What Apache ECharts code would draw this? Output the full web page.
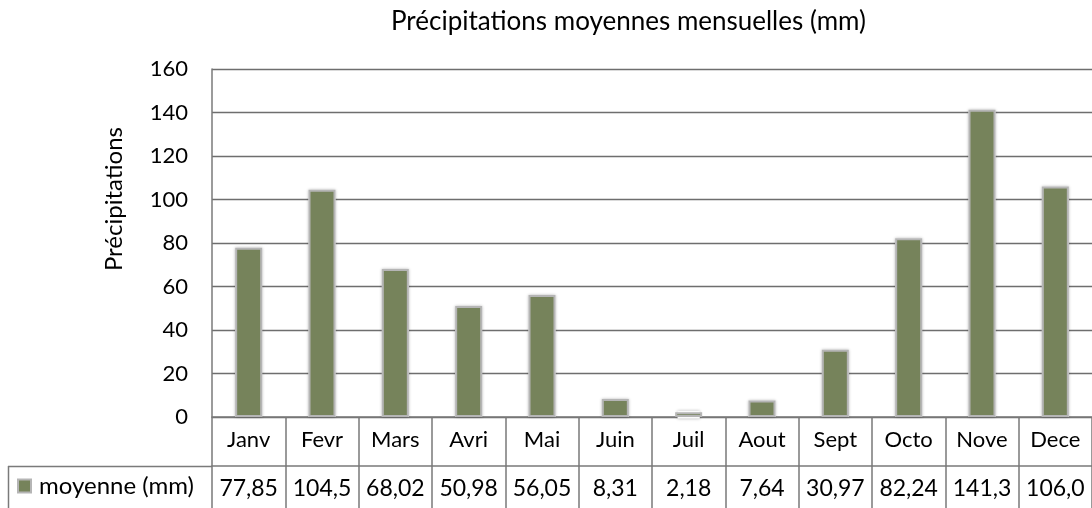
<!DOCTYPE html>
<html>
<head>
<meta charset="utf-8">
<script src="https://cdn.jsdelivr.net/npm/echarts@6/dist/echarts.min.js"></script>
<style>
  html, body { margin: 0; padding: 0; background: #fff; }
</style>
</head>
<body>
<div id="myChart" style="width: 1092px; height: 508px;"></div>
<script>
// data
const months = ["Janv", "Fevr", "Mars", "Avri", "Mai", "Juin", "Juil", "Aout", "Sept", "Octo", "Nove", "Dece"];
const moyenne = [77.85, 104.5, 68.02, 50.98, 56.05, 8.31, 2.18, 7.64, 30.97, 82.24, 141.3, 106.0];
// as printed in the data table
const tableLabels = ["77,85", "104,5", "68,02", "50,98", "56,05", "8,31", "2,18", "7,64", "30,97", "82,24", "141,3", "106,0"];
const yTicks = [0, 20, 40, 60, 80, 100, 120, 140, 160];

const font = "Lato, 'Open Sans', sans-serif";
const lineGray = "#7a7a7a";

let myChart = echarts.init(document.getElementById("myChart"));
myChart.setOption({
  animation: false,
  textStyle: { fontFamily: font },
  title: {
    text: "Précipitations moyennes mensuelles (mm)",
    left: 386,
    top: 4,
    textStyle: { fontFamily: font, fontSize: 26, fontWeight: "normal", color: "#000" },
  },
  legend: {
    data: ["moyenne (mm)"],
    left: 12,
    top: 469,
    icon: "rect",
    itemWidth: 13,
    itemHeight: 13,
    textStyle: { fontFamily: font, fontSize: 24, color: "#000", padding: [0, 0, 0, 3] },
  },
  grid: {
    left: 212,
    right: -4,
    top: 69,
    bottom: 91,
    containLabel: false,
  },
  xAxis: [
    {
      type: "category",
      data: months,
      axisLine: { lineStyle: { color: lineGray, width: 1.5 } },
      axisTick: { show: true, interval: 0, length: 49, lineStyle: { color: lineGray, width: 1.5 } },
      axisLabel: { interval: 0, margin: 12, fontSize: 22, color: "#000", fontFamily: font },
      splitLine: { show: false },
    },
    {
      type: "category",
      data: tableLabels,
      position: "bottom",
      offset: 49,
      axisLine: { lineStyle: { color: lineGray, width: 1.5 } },
      axisTick: { show: true, interval: 0, length: 45, lineStyle: { color: lineGray, width: 1.5 } },
      axisLabel: { interval: 0, margin: 11, fontSize: 23, color: "#000", fontFamily: font },
      splitLine: { show: false },
    },
  ],
  yAxis: {
    type: "value",
    min: 0,
    max: 160,
    interval: 20,
    axisLine: { show: true, lineStyle: { color: lineGray, width: 1.5 } },
    axisTick: { show: false },
    axisLabel: {
      margin: 24,
      fontSize: 22,
      color: "#000",
      fontFamily: font,
      formatter: (v) => (yTicks.indexOf(v) >= 0 ? String(v) : ""),
    },
    splitLine: { show: true, lineStyle: { color: "#6e6e6e", width: 1.3 } },
  },
  graphic: [
    {
      type: "text",
      left: 102,
      top: 127,
      rotation: Math.PI / 2,
      style: {
        text: "Précipitations",
        font: "24px " + font,
        fill: "#000",
      },
    },
    {
      type: "line",
      shape: { x1: 8, y1: 466.5, x2: 212, y2: 466.5 },
      style: { stroke: lineGray, lineWidth: 1.5 },
    },
    {
      type: "line",
      shape: { x1: 8.5, y1: 466, x2: 8.5, y2: 510 },
      style: { stroke: lineGray, lineWidth: 1.5 },
    },
  ],
  series: [
    {
      // soft halo behind each bar
      name: "halo",
      type: "bar",
      xAxisIndex: 1,
      data: moyenne,
      barWidth: 27,
      silent: true,
      itemStyle: {
        color: "#f6f6f6",
        borderColor: "#fafafa",
        borderWidth: 8,
        shadowColor: "rgba(0,0,0,0.3)",
        shadowBlur: 3,
      },
    },
    {
      name: "moyenne (mm)",
      type: "bar",
      xAxisIndex: 0,
      data: moyenne,
      barWidth: 27,
      itemStyle: {
        color: "#76835b",
        borderColor: "#b5b5b5",
        borderWidth: 2,
      },
    },
  ],
});
</script>
</body>
</html>
